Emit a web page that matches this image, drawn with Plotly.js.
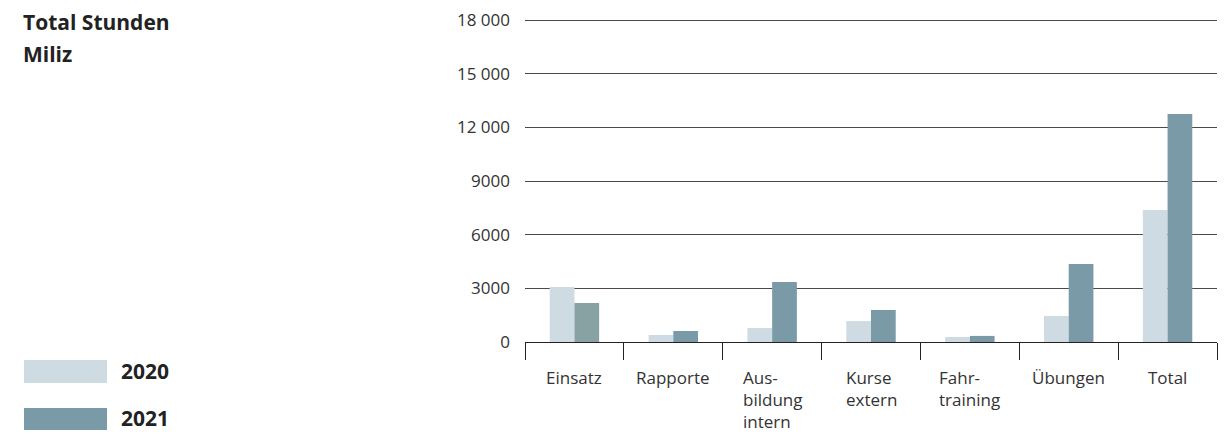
<!DOCTYPE html>
<html>
<head>
<meta charset="utf-8">
<script src="https://cdn.plot.ly/plotly-3.0.1.min.js"></script>
<style>
  html, body { margin: 0; padding: 0; background: #fff; }
  #chart { width: 1227px; height: 434px; }
</style>
</head>
<body>
<div id="chart"></div>
<script>
// Werte (Stunden)
const categories = ["Einsatz", "Rapporte", "Ausbildung intern", "Kurse extern", "Fahrtraining", "Übungen", "Total"];
const catLabels = ["Einsatz", "Rapporte", "Aus-<br>bildung<br>intern", "Kurse<br>extern", "Fahr-<br>training", "Übungen", "Total"];
const hours2020 = [3070, 390, 780, 1170, 280, 1450, 7380];
const hours2021 = [2180, 615, 3350, 1790, 340, 4360, 12740];
const tickVals = [0, 3000, 6000, 9000, 12000, 15000, 18000];
const tickText = ["0", "3000", "6000", "9000", "12 000", "15 000", "18 000"];

const c2020 = "#cfdbe2";
const c2021 = "#7b9aa7";
const font = "'Open Sans', 'Noto Sans', sans-serif";

// Einsatz 2021 hat in der Vorlage einen etwas grünlicheren Ton
const colors2021 = hours2021.map((v, i) => i === 0 ? "#88a2a3" : c2021);

const W = 1217;   // Breite der Zeichenfläche (ohne rechten Rand)
const px = x => x / W;
const py = y => (342 - y) / 324;

const data = [{
    type: "bar",
    x: categories,
    y: hours2020,
    name: "2020",
    marker: {color: c2020},
    hoverinfo: "y",
}, {
    type: "bar",
    x: categories,
    y: hours2021,
    name: "2021",
    marker: {color: colors2021},
    hoverinfo: "y",
}];

// Kategorienbeschriftung: Block zentriert, Zeilen linksbündig
const catAnnotations = categories.map((c, i) => ({
    text: catLabels[i],
    xref: "x", yref: "paper",
    x: c, y: py(364),
    xanchor: "center", yanchor: "top", align: "left",
    showarrow: false,
    font: {family: font, size: 17, color: "#333"},
}));

const layout = {
    width: 1227,
    height: 434,
    margin: {l: 0, r: 10, t: 18, b: 92},
    paper_bgcolor: "#fff",
    plot_bgcolor: "#fff",
    showlegend: false,
    barmode: "group",
    bargap: 0.5,
    bargroupgap: 0,
    font: {family: font, size: 17, color: "#333"},
    xaxis: {
        domain: [525 / W, 1],
        type: "category",
        showgrid: false,
        showline: true,
        linecolor: "#222",
        linewidth: 1,
        ticks: "outside",
        tickson: "boundaries",
        ticklen: 17,
        tickcolor: "#222",
        tickwidth: 1,
        showticklabels: false,
        fixedrange: true,
    },
    yaxis: {
        range: [0, 18000 * 324 / 322],
        tickvals: tickVals,
        ticktext: tickText,
        showgrid: true,
        gridcolor: "#4a4a4a",
        gridwidth: 1,
        zeroline: false,
        showline: false,
        ticks: "",
        ticklabelstandoff: 14,
        tickfont: {family: font, size: 17, color: "#333"},
        fixedrange: true,
    },
    shapes: [
        {type: "rect", xref: "paper", yref: "paper", x0: px(24), x1: px(107), y0: py(383), y1: py(360),
         fillcolor: c2020, line: {width: 0}},
        {type: "rect", xref: "paper", yref: "paper", x0: px(24), x1: px(107), y0: py(430), y1: py(408),
         fillcolor: c2021, line: {width: 0}},
    ],
    annotations: [
        {text: "<b>Total Stunden</b>", xref: "paper", yref: "paper", x: px(21), y: py(6), xanchor: "left", yanchor: "top",
         showarrow: false, font: {family: font, size: 21, color: "#222"}},
        {text: "<b>Miliz</b>", xref: "paper", yref: "paper", x: px(21), y: py(38), xanchor: "left", yanchor: "top",
         showarrow: false, font: {family: font, size: 21, color: "#222"}},
        {text: "<b>2020</b>", xref: "paper", yref: "paper", x: px(119), y: py(371), xanchor: "left", yanchor: "middle",
         showarrow: false, font: {family: font, size: 21, color: "#222"}},
        {text: "<b>2021</b>", xref: "paper", yref: "paper", x: px(119), y: py(418), xanchor: "left", yanchor: "middle",
         showarrow: false, font: {family: font, size: 21, color: "#222"}},
    ].concat(catAnnotations),
};

Plotly.newPlot("chart", data, layout, {displayModeBar: false, responsive: false});
</script>
</body>
</html>
